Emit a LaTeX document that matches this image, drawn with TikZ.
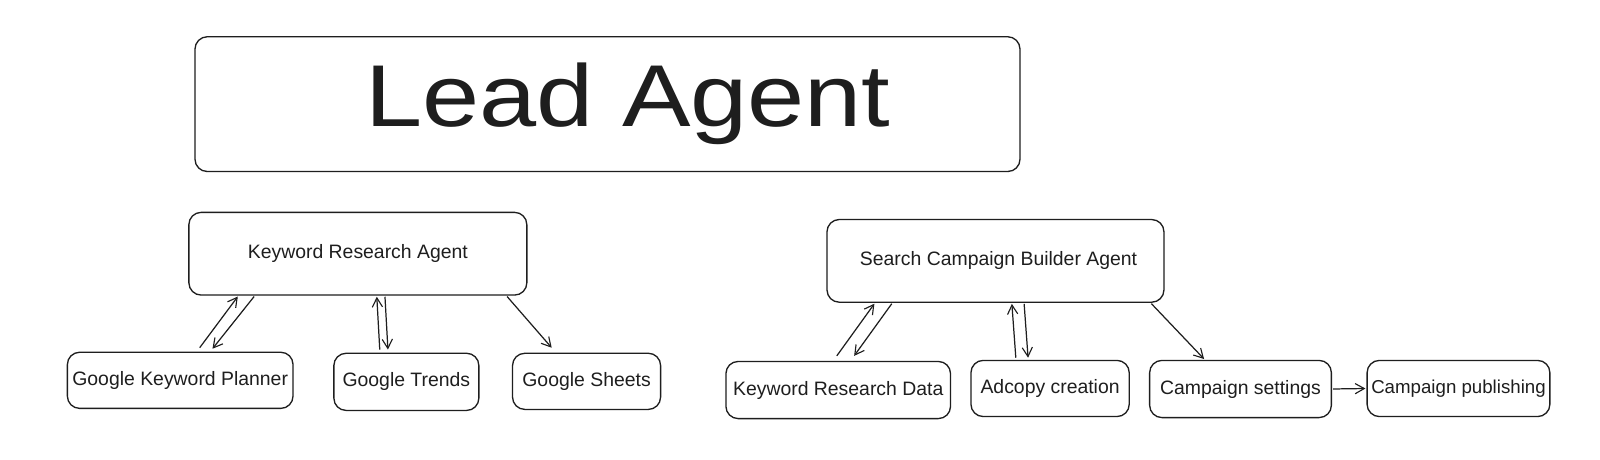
\documentclass[tikz,border=0pt]{standalone}
\usepackage{fontspec}
\setmainfont{Liberation Sans}
\usetikzlibrary{arrows.meta}
\definecolor{ink}{HTML}{1E1E1E}
\tikzset{
  box/.style={draw=ink, line width=1.3pt, rounded corners=12pt, inner sep=0pt,
    text=ink, font=\fontsize{19}{21}\selectfont, align=center},
  conn/.style={draw=ink, line width=1.2pt, -{Straight Barb[length=9pt,width=10pt,line width=1.1pt]}, shorten <=1pt, shorten >=1pt}
}
\begin{document}
\begin{tikzpicture}[x=1pt,y=-1pt]
\useasboundingbox (0,0) rectangle (1567.1,449.6);
\fill[white] (0,0) rectangle (1567.1,449.6);
% Lead
\node[box, minimum width=808pt, minimum height=132pt, font=\fontsize{86}{90}\selectfont] (lead) at (595,102) {\hspace*{40pt}\scalebox{1.17}[1]{Lead Agent}};
% left group
\node[box, minimum width=331pt, minimum height=81pt] (kra) at (350.5,248.5) {Keyword Research Agent};
\node[box, minimum width=221pt, minimum height=55pt] (gkp) at (176.5,372.5) {Google Keyword Planner};
\node[box, minimum width=142pt, minimum height=56pt] (gt) at (398,374) {Google Trends};
\node[box, minimum width=145pt, minimum height=55pt] (gs) at (574.5,373.5) {Google Sheets};
% right group
\node[box, minimum width=330pt, minimum height=81pt] (scba) at (975,255.5) {\hspace*{6pt}Search Campaign Builder Agent};
\node[box, minimum width=220pt, minimum height=56pt] (krd) at (821,382) {Keyword Research Data};
\node[box, minimum width=155pt, minimum height=55pt] (ac) at (1028.5,380.5) {Adcopy creation};
\node[box, minimum width=178pt, minimum height=56pt] (cs) at (1215,381) {Campaign settings};
\node[box, minimum width=179pt, minimum height=55pt, font=\fontsize{18.3}{21}\selectfont] (cp) at (1428.5,380.5) {Campaign publishing};
% left connectors
\draw[conn] ([xshift=18.5pt,yshift=3pt]gkp.north) -- ([xshift=-117pt]kra.south);
\draw[conn] ([xshift=-101pt]kra.south) -- ([xshift=31pt,yshift=2pt]gkp.north);
\draw[conn] ([xshift=-26pt,yshift=2pt]gt.north) -- ([xshift=18.5pt]kra.south);
\draw[conn] ([xshift=26.5pt]kra.south) -- ([xshift=-18pt,yshift=2pt]gt.north);
\draw[conn] ([xshift=145.5pt]kra.south) -- ([xshift=-33.5pt,yshift=4pt]gs.north);
% right connectors
\draw[conn] ([xshift=-2pt,yshift=4pt]krd.north) -- ([xshift=-118pt]scba.south);
\draw[conn] ([xshift=-101pt]scba.south) -- ([xshift=15pt,yshift=4pt]krd.north);
\draw[conn] ([xshift=-33.5pt,yshift=1pt]ac.north) -- ([xshift=16pt]scba.south);
\draw[conn] ([xshift=28pt]scba.south) -- ([xshift=-21.5pt,yshift=1pt]ac.north);
\draw[conn] ([xshift=152pt]scba.south) -- ([xshift=-35pt]cs.north);
\draw[conn] (cs.east) -- (cp.west);
\end{tikzpicture}
\end{document}
